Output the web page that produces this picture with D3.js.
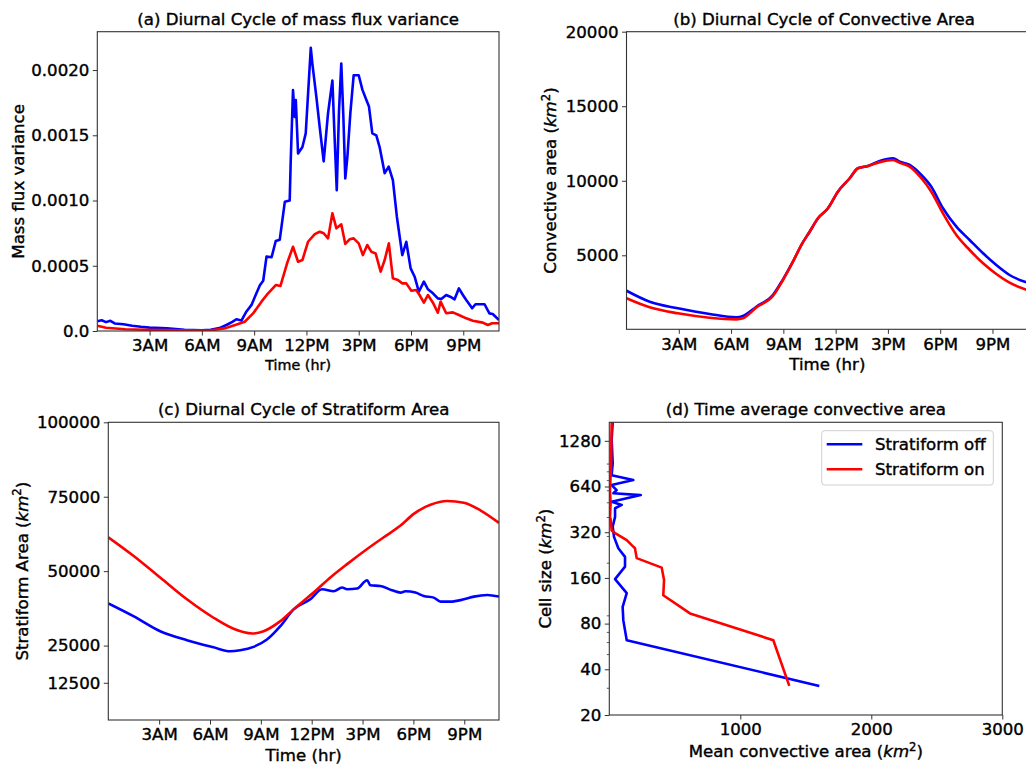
<!DOCTYPE html>
<html>
<head>
<meta charset="utf-8">
<script src="https://cdn.jsdelivr.net/npm/d3@7"></script>
<style>
  html, body { margin: 0; padding: 0; background: #fff; }
  svg { display: block; font-family: "DejaVu Sans", sans-serif; }
  svg text { fill: #000; stroke: #000; stroke-width: 0.4px; }
</style>
</head>
<body>
<svg id="fig" width="1026" height="765"></svg>
<script>
// ---- Hour-of-day ticks shared by the diurnal panels ----
const hourTicks = [3, 6, 9, 12, 15, 18, 21];
const hourLabels = ["3AM", "6AM", "9AM", "12PM", "3PM", "6PM", "9PM"];
const seriesNames = ["Stratiform off", "Stratiform on"];

// ---- (a) mass flux variance ----
const fluxHoursOff = [0, 0.25, 0.5, 0.75, 1.0, 1.5, 2.0, 2.5, 3.0, 4.0, 5.0, 5.5, 6.0, 6.5, 7.0, 7.41, 7.75, 7.98, 8.27, 8.56, 8.85, 9.13, 9.33, 9.52, 9.71, 10.0, 10.24, 10.47, 10.76, 11.04, 11.1, 11.23, 11.33, 11.39, 11.52, 11.77, 11.96, 12.25, 12.34, 12.57, 12.76, 12.99, 13.24, 13.49, 13.6, 13.74, 13.87, 14.0, 14.12, 14.23, 14.35, 14.52, 14.71, 15.0, 15.21, 15.44, 15.59, 15.78, 16.01, 16.2, 16.49, 16.72, 16.96, 17.19, 17.5, 17.73, 17.98, 18.21, 18.45, 18.74, 18.97, 19.26, 19.54, 19.74, 20.02, 20.25, 20.5, 20.75, 20.98, 21.17, 21.51, 21.7, 22.22, 22.5, 22.69, 23.05];
const fluxOff = [7.5e-5, 8.2e-5, 6.8e-5, 7.8e-5, 5.8e-5, 5.2e-5, 4.0e-5, 3.2e-5, 2.6e-5, 2.0e-5, 1.0e-5, 8e-6, 5e-6, 1.0e-5, 2.2e-5, 4.6e-5, 7.0e-5, 9.0e-5, 8.0e-5, 1.5e-4, 2.0e-4, 2.9e-4, 3.5e-4, 3.85e-4, 5.7e-4, 5.65e-4, 6.9e-4, 7.0e-4, 9.9e-4, 1.0e-3, 1.31e-3, 1.847e-3, 1.64e-3, 1.77e-3, 1.36e-3, 1.41e-3, 1.515e-3, 2.17e-3, 2.05e-3, 1.795e-3, 1.565e-3, 1.30e-3, 1.67e-3, 1.92e-3, 1.54e-3, 1.08e-3, 1.69e-3, 2.05e-3, 1.64e-3, 1.17e-3, 1.335e-3, 1.67e-3, 1.96e-3, 1.96e-3, 1.85e-3, 1.77e-3, 1.72e-3, 1.515e-3, 1.50e-3, 1.41e-3, 1.21e-3, 1.26e-3, 1.157e-3, 8.76e-4, 5.82e-4, 6.84e-4, 4.8e-4, 4.16e-4, 3.01e-4, 3.78e-4, 3.2e-4, 2.89e-4, 2.5e-4, 2.45e-4, 2.76e-4, 2.63e-4, 2.43e-4, 3.27e-4, 2.76e-4, 2.37e-4, 1.74e-4, 2.05e-4, 2.05e-4, 1.35e-4, 1.3e-4, 8.4e-5];
const fluxHoursOn = [0, 0.5, 1.6, 2.75, 4.9, 6.4, 6.84, 7.37, 7.6, 8.0, 8.46, 8.94, 9.42, 9.8, 10.24, 10.51, 10.89, 11.23, 11.52, 11.77, 12.09, 12.48, 12.76, 12.99, 13.24, 13.49, 13.72, 14.0, 14.23, 14.48, 14.71, 15.0, 15.24, 15.49, 15.72, 15.97, 16.26, 16.49, 16.73, 16.96, 17.25, 17.5, 17.73, 18.02, 18.3, 18.49, 18.74, 18.97, 19.26, 19.54, 19.7, 20.02, 20.4, 20.75, 21.17, 21.55, 22.12, 22.41, 22.66, 23.05];
const fluxOn = [4.1e-5, 2.5e-5, 1.3e-5, 1.0e-5, 5e-6, 3e-6, 1.2e-5, 2.2e-5, 3.3e-5, 5.0e-5, 7.1e-5, 1.35e-4, 2.25e-4, 2.89e-4, 3.52e-4, 3.45e-4, 5.19e-4, 6.46e-4, 5.31e-4, 5.44e-4, 6.84e-4, 7.43e-4, 7.61e-4, 7.49e-4, 7.1e-4, 9.02e-4, 7.87e-4, 8.18e-4, 6.67e-4, 7.03e-4, 7.1e-4, 6.72e-4, 5.82e-4, 6.59e-4, 6.08e-4, 5.95e-4, 4.55e-4, 5.44e-4, 6.72e-4, 4.04e-4, 3.91e-4, 3.65e-4, 3.65e-4, 3.09e-4, 3.14e-4, 2.76e-4, 2.17e-4, 2.76e-4, 2.17e-4, 1.4e-4, 2.25e-4, 1.36e-4, 1.43e-4, 1.23e-4, 9.7e-5, 7.9e-5, 6.4e-5, 4.6e-5, 5.9e-5, 5.9e-5];
const fluxTicks = [0, 0.0005, 0.0010, 0.0015, 0.0020];
const fluxTickLabels = ["0.0", "0.0005", "0.0010", "0.0015", "0.0020"];

// ---- (b) convective area ----
const convHours = [0, 1.33, 2.95, 4.77, 6.3, 6.68, 7.45, 8.4, 8.98, 9.55, 10.03, 10.51, 10.99, 11.56, 12.13, 12.81, 13.28, 13.86, 14.53, 15.29, 15.68, 16.25, 16.92, 17.49, 18.16, 18.93, 19.69, 20.46, 21.22, 21.98, 23.05];
const convOff = [2625, 1887, 1444, 1061, 840, 927, 1551, 2336, 3390, 4571, 5690, 6584, 7483, 8154, 9268, 10167, 10838, 10992, 11328, 11509, 11281, 11059, 10388, 9603, 8154, 6919, 6027, 5134, 4349, 3678, 3150];
const convOn = [2115, 1511, 1108, 813, 705, 773, 1500, 2269, 3343, 4571, 5690, 6584, 7483, 8154, 9268, 10167, 10838, 10992, 11250, 11395, 11200, 10945, 10167, 9268, 7818, 6362, 5356, 4463, 3745, 3161, 2650];
const convTicks = [5000, 10000, 15000, 20000];

// ---- (c) stratiform area ----
const stratHoursOff = [0, 1.48, 3.06, 4.64, 6.21, 7.19, 7.78, 8.57, 9.36, 10.15, 10.93, 11.92, 12.61, 13.3, 13.79, 14.09, 14.68, 15.27, 15.46, 16.05, 16.74, 17.24, 17.53, 18.12, 18.61, 19.2, 19.6, 20.19, 20.98, 21.57, 22.36, 23.05];
const stratOff = [39180, 34900, 29830, 26790, 24420, 23070, 23410, 24560, 27020, 31520, 37160, 40540, 43910, 43240, 44490, 43910, 44150, 46950, 45260, 45030, 43580, 42800, 43240, 42800, 41650, 41110, 39760, 39760, 40540, 41450, 41990, 41450];
const stratHoursOn = [0, 1.48, 3.06, 4.64, 6.21, 7.39, 8.48, 9.16, 10.15, 10.93, 12.11, 13.1, 14.09, 15.27, 16.25, 17.24, 18.02, 19.01, 19.99, 20.98, 21.97, 23.05];
const stratOn = [61380, 55170, 47860, 40540, 34350, 30640, 29050, 29830, 33210, 37160, 42800, 47860, 52360, 57430, 61380, 65300, 69250, 72290, 73540, 72960, 70360, 66210];
const stratTicks = [12500, 25000, 50000, 75000, 100000];

// ---- (d) time-averaged convective area by cell size ----
const cellSizeOff = [31.1, 62.2, 84, 103, 127, 157, 190, 220, 251, 298, 349, 404, 460, 484, 508, 562, 578, 606, 654, 706, 760, 910, 1302, 1700];
const meanAreaOff = [1603, 133, 107, 102, 133, 44, 120, 120, 69, 36, 26, 44, 44, 95, 18, 240, 31, 56, 18, 183, 18, 26, 18, 26];
const cellSizeOn = [31.1, 62.2, 93.4, 123, 155, 187, 216, 251, 263, 284, 316, 329, 386, 404, 496, 600, 900, 1700];
const meanAreaOn = [1374, 1252, 616, 412, 418, 400, 209, 196, 171, 133, 44, 18, 11, 5, 10, 5, 14, 18];
const cellTicks = [20, 40, 80, 160, 320, 640, 1280];
const cellMinorTicks = [30, 50, 60, 70, 90, 200, 300, 400, 500, 600, 700, 800, 900];
const meanAreaTicks = [1000, 2000, 3000];

// ---- styling ----
const COLORS = ["#0000ff", "#ff0000"];
const FS = 16.6;
const LW = 2.6;

const svg = d3.select("#fig");

function zip(xs, ys) { return xs.map((x, i) => [x, ys[i]]); }

// Draws one panel: frame, axes, title, labels and the two series.
function panel(opt) {
  const { x, y, box } = opt;
  const g = svg.append("g");
  const clipId = "clip" + opt.id;
  svg.append("clipPath").attr("id", clipId)
    .append("rect").attr("x", box.l).attr("y", box.t)
    .attr("width", box.r - box.l).attr("height", box.b - box.t);

  // x axis
  const xa = g.append("g").attr("transform", `translate(0,${box.b})`)
    .call(d3.axisBottom(x).tickValues(opt.xTicks)
      .tickFormat((d, i) => opt.xLabels ? opt.xLabels[i] : d3.format("d")(d))
      .tickSize(4.5).tickPadding(4).tickSizeOuter(0));
  // y axis
  const ya = g.append("g").attr("transform", `translate(${box.l},0)`)
    .call(d3.axisLeft(y).tickValues(opt.yTicks)
      .tickFormat((d, i) => opt.yLabels ? opt.yLabels[i] : d3.format("d")(d))
      .tickSize(4.5).tickPadding(3.5).tickSizeOuter(0));
  [xa, ya].forEach(a => {
    a.select(".domain").remove();
    a.selectAll("line").attr("stroke", "#333").attr("stroke-width", 1);
    a.selectAll("text").attr("font-size", FS).attr("fill", "#000")
      .attr("font-family", "DejaVu Sans");
  });
  if (opt.yMinor) {
    g.append("g").selectAll("line").data(opt.yMinor).join("line")
      .attr("x1", box.l - 2.5).attr("x2", box.l)
      .attr("y1", d => y(d)).attr("y2", d => y(d))
      .attr("stroke", "#333").attr("stroke-width", 0.8);
  }

  // series
  const line = opt.swap
    ? d3.line().x(d => x(d[1])).y(d => y(d[0])).curve(opt.curve || d3.curveLinear)
    : d3.line().x(d => x(d[0])).y(d => y(d[1])).curve(opt.curve || d3.curveLinear);
  const lg = g.append("g").attr("clip-path", `url(#${clipId})`);
  opt.series.forEach((s, i) => {
    lg.append("path").datum(s).attr("d", line)
      .attr("fill", "none").attr("stroke", COLORS[i])
      .attr("stroke-width", LW).attr("stroke-linejoin", "round");
  });

  // frame
  g.append("rect").attr("x", box.l).attr("y", box.t)
    .attr("width", box.r - box.l).attr("height", box.b - box.t)
    .attr("fill", "none").attr("stroke", "#333").attr("stroke-width", 1.1);

  // title
  g.append("text").attr("x", opt.titleX !== undefined ? opt.titleX : (box.l + box.r) / 2)
    .attr("y", box.t - 7).attr("text-anchor", "middle")
    .attr("font-size", FS).text(opt.title);

  // x label
  const xl = g.append("text").attr("x", (box.l + box.r) / 2).attr("y", opt.xLabelY)
    .attr("text-anchor", "middle").attr("font-size", opt.xLabelSize || FS);
  addLabel(xl, opt.xLabel, opt.xLabelSize || FS);

  // y label
  const yl = g.append("text")
    .attr("transform", `translate(${opt.yLabelX},${(box.t + box.b) / 2}) rotate(-90)`)
    .attr("text-anchor", "middle").attr("font-size", FS);
  addLabel(yl, opt.yLabel, FS);
  return g;
}

// Label text; an array label gets the "(km²)" unit with italic km.
function addLabel(sel, lab, fs) {
  if (typeof lab === "string") { sel.text(lab); return; }
  sel.append("tspan").text(lab[0] + " (");
  sel.append("tspan").attr("font-style", "italic").text("km");
  sel.append("tspan").attr("dy", -fs * 0.38).attr("font-size", fs * 0.7).text("2");
  sel.append("tspan").attr("dy", fs * 0.38).text(")");
}

// (a)
{
  const box = { l: 97.3, r: 499, t: 31.7, b: 331 };
  panel({
    id: "a", box,
    x: d3.scaleLinear().domain([0, 23.05]).range([box.l, box.r]),
    y: d3.scaleLinear().domain([0, 0.002294]).range([box.b, box.t]),
    xTicks: hourTicks, xLabels: hourLabels,
    yTicks: fluxTicks, yLabels: fluxTickLabels,
    series: [zip(fluxHoursOff, fluxOff), zip(fluxHoursOn, fluxOn)],
    title: "(a) Diurnal Cycle of mass flux variance",
    xLabel: "Time (hr)", xLabelY: 369.5, xLabelSize: 14.3,
    yLabel: "Mass flux variance", yLabelX: 24
  });
}
// (b)
{
  const box = { l: 626.5, r: 1028.2, t: 31.7, b: 329.3 };
  panel({
    id: "b", box, titleX: 824,
    x: d3.scaleLinear().domain([0, 23.05]).range([box.l, box.r]),
    y: d3.scaleLinear().domain([36, 20000]).range([box.b, box.t]),
    xTicks: hourTicks, xLabels: hourLabels,
    yTicks: convTicks,
    curve: d3.curveMonotoneX,
    series: [zip(convHours, convOff), zip(convHours, convOn)],
    title: "(b) Diurnal Cycle of Convective Area",
    xLabel: "Time (hr)", xLabelY: 370,
    yLabel: ["Convective area"], yLabelX: 556
  });
}
// (c)
{
  const box = { l: 108.3, r: 499, t: 422.3, b: 720 };
  panel({
    id: "c", box,
    x: d3.scaleLinear().domain([0, 23.05]).range([box.l, box.r]),
    y: d3.scaleLinear().domain([0, 100000]).range([box.b, box.t]),
    xTicks: hourTicks, xLabels: hourLabels,
    yTicks: stratTicks,
    curve: d3.curveMonotoneX,
    series: [zip(stratHoursOff, stratOff), zip(stratHoursOn, stratOn)],
    title: "(c) Diurnal Cycle of Stratiform Area",
    xLabel: "Time (hr)", xLabelY: 761,
    yLabel: ["Stratiform Area"], yLabelX: 27.5
  });
}
// (d)
{
  const box = { l: 609.3, r: 1002.3, t: 422.3, b: 715 };
  const g = panel({
    id: "d", box, swap: true,
    x: d3.scaleLinear().domain([0, 3000]).range([box.l, box.r]),
    y: d3.scaleLog().base(2).domain([20, 1695]).range([box.b, box.t]),
    xTicks: meanAreaTicks,
    yTicks: cellTicks, yMinor: cellMinorTicks,
    series: [zip(cellSizeOff, meanAreaOff), zip(cellSizeOn, meanAreaOn)],
    title: "(d) Time average convective area",
    xLabel: ["Mean convective area"], xLabelY: 757,
    yLabel: ["Cell size"], yLabelX: 551
  });

  // legend
  const lg = g.append("g");
  lg.append("rect").attr("x", 821.7).attr("y", 430.7).attr("width", 171.6).attr("height", 54.3)
    .attr("rx", 3).attr("fill", "#fff").attr("fill-opacity", 0.8)
    .attr("stroke", "#d0d0d0").attr("stroke-width", 1);
  seriesNames.forEach((name, i) => {
    const yy = 444.3 + i * 25;
    lg.append("line").attr("x1", 826.7).attr("x2", 862.3).attr("y1", yy).attr("y2", yy)
      .attr("stroke", COLORS[i]).attr("stroke-width", LW);
    lg.append("text").attr("x", 875).attr("y", yy + 6).attr("font-size", FS).text(name);
  });
}
</script>
</body>
</html>
